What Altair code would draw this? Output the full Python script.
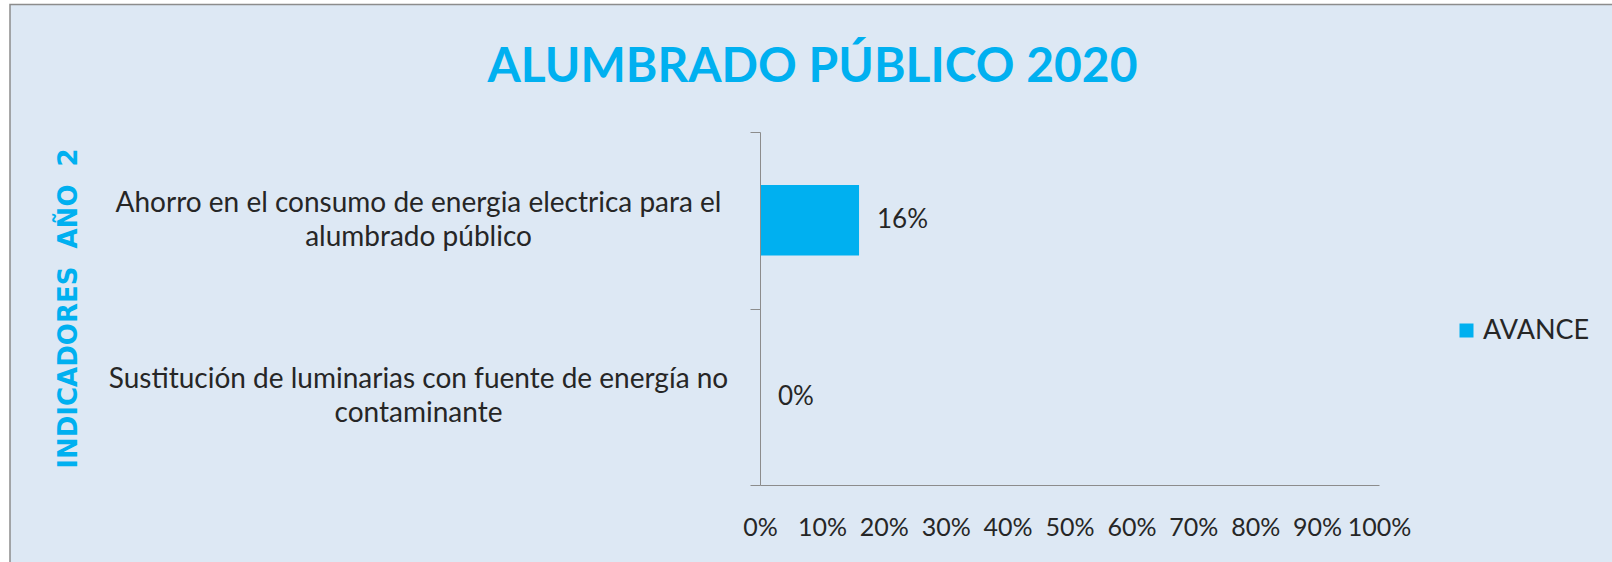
import altair as alt
import pandas as pd

categories = [
    "Ahorro en el consumo de energia electrica para el|alumbrado público",
    "Sustitución de luminarias con fuente de energía no|contaminante",
]
values = [0.16, 0.0]
series = ["AVANCE", "AVANCE"]
x_ticks = [0, 0.1, 0.2, 0.3, 0.4, 0.5, 0.6, 0.7, 0.8, 0.9, 1.0]

df = pd.DataFrame({"categoria": categories, "valor": values, "serie": series})

BLUE = "#00B0F0"
BG = "#DDE8F4"
GRAY = "#8C8C8C"
TXT = "#262626"
FONT = "Lato"

frame = alt.Chart(pd.DataFrame({"k": [0]})).mark_rect(
    fill=BG, stroke=GRAY, strokeWidth=1.5
).encode(
    x=alt.value(-750), x2=alt.value(870), y=alt.value(-127.5), y2=alt.value(450)
)

y_enc = alt.Y(
    "categoria:N",
    sort=categories,
    scale=alt.Scale(paddingInner=0, paddingOuter=0),
    axis=alt.Axis(
        title="INDICADORES\u00a0\u00a0AÑO\u00a0\u00a02",
        titleFont="DejaVu Sans",
        titleFontWeight="bold",
        titleFontSize=26,
        titleColor=BLUE,
        titleX=-692,
        titleY=176,
        titleAlign="center",
        titleBaseline="middle",
        titleAngle=270,
        labelExpr="split(datum.label, '|')",
        labelAlign="center",
        labelBaseline="middle",
        labelOffset=-17,
        labelFont=FONT,
        labelFontSize=28,
        labelColor=TXT,
        labelLineHeight=34,
        labelPadding=332,
        labelLimit=2000,
        tickBand="extent",
        tickSize=10,
        tickColor=GRAY,
        domainColor=GRAY,
        grid=False,
        zindex=1,
    ),
)

x_enc = alt.X(
    "valor:Q",
    scale=alt.Scale(domain=[0, 1], nice=False),
    axis=alt.Axis(
        values=x_ticks,
        format=".0%",
        title=None,
        grid=False,
        ticks=False,
        domainColor=GRAY,
        labelFont=FONT,
        labelFontSize=25,
        labelColor=TXT,
        labelPadding=30,
        labelOverlap=False,
        labelFlush=False,
        zindex=1,
    ),
)

bars = alt.Chart(df).mark_bar(height=alt.RelativeBandSize(0.4)).encode(
    x=x_enc,
    y=y_enc,
    color=alt.Color(
        "serie:N",
        scale=alt.Scale(domain=["AVANCE"], range=[BLUE]),
        legend=alt.Legend(
            title=None,
            orient="none",
            legendX=693,
            legendY=185,
            symbolType="square",
            symbolSize=196,
            symbolStrokeWidth=0,
            labelFont=FONT,
            labelFontSize=27,
            labelColor=TXT,
            labelOffset=3,
            padding=0,
        ),
    ),
)

labels = alt.Chart(df).mark_text(
    align="left", baseline="middle", dx=18, font=FONT, fontSize=26, color=TXT
).encode(
    x="valor:Q",
    y=alt.Y("categoria:N", sort=categories),
    text=alt.Text("valor:Q", format=".0%"),
)

chart = alt.layer(frame, bars, labels).properties(
    width=619,
    height=353,
    padding={"left": 760, "top": 132, "right": 233, "bottom": 77},
    autosize=alt.AutoSizeParams(type="none"),
    background="white",
    title=alt.TitleParams(
        "ALUMBRADO PÚBLICO 2020",
        font=FONT,
        fontWeight="bold",
        fontSize=48,
        color=BLUE,
        anchor="middle",
        frame="group",
        dx=-257,
        offset=-88,
    ),
).configure_view(stroke=None)

chart.save("out.html", embed_options={"renderer": "svg", "actions": False})
